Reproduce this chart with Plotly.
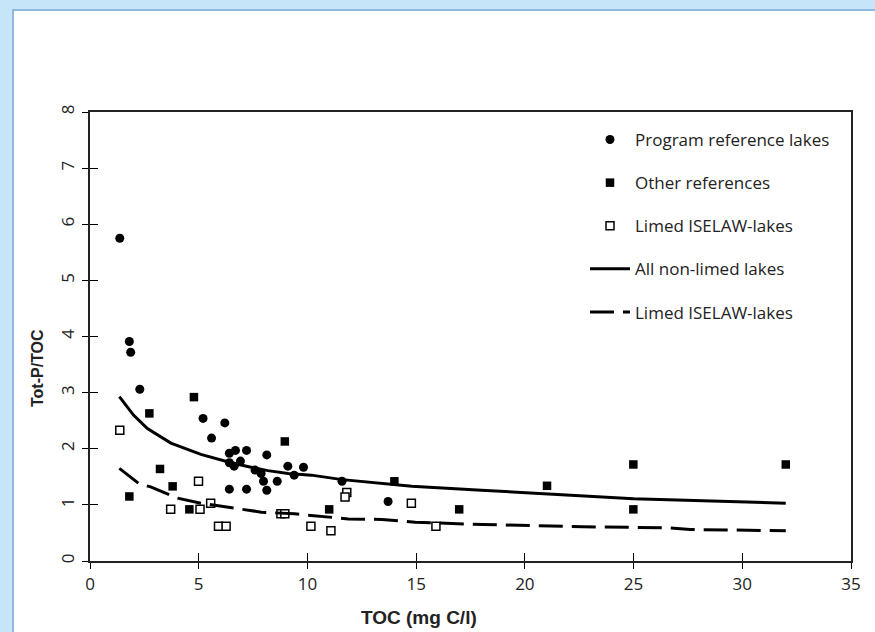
import plotly.graph_objects as go

# ---- data ----
prog_x = [1.37, 1.81, 1.87, 2.29, 5.20, 6.20, 5.59, 6.41, 6.69, 7.20, 8.13, 6.41, 6.63,
          6.92, 7.59, 7.87, 7.98, 8.61, 9.10, 9.39, 9.82, 6.41, 7.20, 8.13, 11.59, 13.71]
prog_y = [5.75, 3.91, 3.72, 3.06, 2.54, 2.46, 2.19, 1.92, 1.97, 1.97, 1.89, 1.75, 1.69,
          1.78, 1.62, 1.56, 1.42, 1.42, 1.69, 1.53, 1.67, 1.28, 1.28, 1.26, 1.42, 1.06]

other_x = [4.78, 2.73, 8.96, 3.22, 3.80, 1.81, 4.57, 11.0, 14.0, 16.98, 21.02, 24.99, 24.99, 32.0]
other_y = [2.92, 2.63, 2.13, 1.64, 1.33, 1.15, 0.92, 0.92, 1.42, 0.92, 1.34, 1.72, 0.92, 1.72]

limed_x = [1.37, 4.99, 5.55, 3.71, 5.06, 5.91, 6.26, 8.78, 8.96, 10.16, 11.08, 11.81, 11.73, 14.78, 15.91]
limed_y = [2.33, 1.42, 1.03, 0.92, 0.92, 0.62, 0.62, 0.84, 0.84, 0.62, 0.54, 1.22, 1.14, 1.03, 0.62]

nonlimed_line_x = [1.35, 2.0, 2.64, 3.72, 5.1, 5.87, 6.49, 7.3, 8.18, 9.11, 10.18, 11.6,
                   13.4, 14.8, 18.0, 21.0, 25.0, 32.0]
nonlimed_line_y = [2.93, 2.60, 2.36, 2.10, 1.90, 1.82, 1.75, 1.68, 1.61, 1.56, 1.53, 1.45,
                   1.38, 1.33, 1.26, 1.19, 1.11, 1.03]

limed_line_x = [1.35, 2.25, 2.79, 4.03, 5.1, 6.34, 7.88, 9.41, 10.34, 11.88, 13.42, 14.96,
                18.04, 22.66, 26.66, 27.6, 32.0]
limed_line_y = [1.65, 1.38, 1.32, 1.12, 1.03, 0.96, 0.87, 0.84, 0.81, 0.75, 0.74, 0.69,
                0.65, 0.61, 0.59, 0.56, 0.54]

x_ticks = [0, 5, 10, 15, 20, 25, 30, 35]
y_ticks = [0, 1, 2, 3, 4, 5, 6, 7, 8]

FONT = "Open Sans, Liberation Sans, Arial, sans-serif"
BOLD = "Liberation Sans, Arial, sans-serif"
BLUE = "#c7e5f8"
EDGE = "#93b8e0"

fig = go.Figure()
fig.add_trace(go.Scatter(x=prog_x, y=prog_y, mode="markers", name="Program reference lakes",
                         legendgroup="a",
                         marker=dict(symbol="circle", size=9, color="black", line=dict(width=0))))
fig.add_trace(go.Scatter(x=other_x, y=other_y, mode="markers", name="Other references",
                         legendgroup="b",
                         marker=dict(symbol="square", size=8.5, color="black", line=dict(width=0))))
fig.add_trace(go.Scatter(x=limed_x, y=limed_y, mode="markers", name="Limed ISELAW-lakes",
                         legendgroup="c",
                         marker=dict(symbol="square", size=8, color="white",
                                     line=dict(width=1.5, color="black"))))
fig.add_trace(go.Scatter(x=nonlimed_line_x, y=nonlimed_line_y, mode="lines",
                         name="All non-limed lakes", legendgroup="d",
                         line=dict(color="black", width=3)))
fig.add_trace(go.Scatter(x=limed_line_x, y=limed_line_y, mode="lines",
                         name="Limed ISELAW-lakes", legendgroup="e",
                         line=dict(color="black", width=3, dash="24px,9px")))

L, R, T, B = 90, 24, 112, 71
W, H = 875, 632
pw, ph = W - L - R, H - T - B

def px2paper_x(px):
    return (px - L) / pw

def py2paper_y(py):
    return (H - B - py) / ph

frame_shapes = [
    # top blue strip
    dict(type="rect", xref="paper", yref="paper", layer="below",
         x0=px2paper_x(-20), x1=px2paper_x(2000), y0=py2paper_y(10), y1=py2paper_y(-20),
         fillcolor=BLUE, line=dict(width=0)),
    # left blue strip
    dict(type="rect", xref="paper", yref="paper", layer="below",
         x0=px2paper_x(-20), x1=px2paper_x(13), y0=py2paper_y(700), y1=py2paper_y(-20),
         fillcolor=BLUE, line=dict(width=0)),
    # white panel on the right side, all the way to the edge
    dict(type="rect", xref="paper", yref="paper", layer="below",
         x0=px2paper_x(800), x1=px2paper_x(2000), y0=py2paper_y(700), y1=py2paper_y(11),
         fillcolor="white", line=dict(width=0)),
    # darker edge of the white panel
    dict(type="line", xref="paper", yref="paper", layer="below",
         x0=px2paper_x(12), x1=px2paper_x(2000), y0=py2paper_y(10), y1=py2paper_y(10),
         line=dict(color=EDGE, width=2)),
    dict(type="line", xref="paper", yref="paper", layer="below",
         x0=px2paper_x(13), x1=px2paper_x(13), y0=py2paper_y(700), y1=py2paper_y(9),
         line=dict(color=EDGE, width=2)),
]

fig.update_layout(
    width=W, height=H,
    margin=dict(l=L, r=R, t=T, b=B),
    paper_bgcolor="white",
    plot_bgcolor="white",
    showlegend=True,
    legend=dict(x=px2paper_x(585), y=py2paper_y(122), xanchor="left", yanchor="top",
                bgcolor="rgba(0,0,0,0)", font=dict(family=FONT, size=17, color="#222"),
                tracegroupgap=18, itemwidth=40),
    xaxis=dict(range=[0, 35], tickvals=x_ticks, ticks="outside", ticklen=6, tickwidth=1.3,
               tickcolor="black", showline=True, linecolor="#222", linewidth=1.5, mirror=True,
               showgrid=False, zeroline=False,
               tickfont=dict(family=FONT, size=17, color="#222"), ticklabelstandoff=1),
    yaxis=dict(range=[0, 8], tickvals=y_ticks, ticks="outside", ticklen=6, tickwidth=1.3,
               tickcolor="black", showline=True, linecolor="#222", linewidth=1.5, mirror=True,
               showgrid=False, zeroline=False, tickangle=-90,
               tickfont=dict(family=FONT, size=17, color="#222"), ticklabelstandoff=1),
    xaxis2=dict(range=[0, 35], tickvals=x_ticks, overlaying="x", anchor="y", side="bottom",
                ticks="inside", ticklen=8, tickwidth=1.3, tickcolor="black",
                showticklabels=False, showline=False, showgrid=False, zeroline=False),
    yaxis2=dict(range=[0, 8], tickvals=y_ticks, overlaying="y", anchor="x", side="left",
                ticks="inside", ticklen=8, tickwidth=1.3, tickcolor="black",
                showticklabels=False, showline=False, showgrid=False, zeroline=False),
    shapes=frame_shapes,
    annotations=[
        dict(text="<b>TOC (mg C/l)</b>", xref="paper", yref="paper",
             x=px2paper_x(419), y=py2paper_y(617), xanchor="center", yanchor="middle",
             showarrow=False, font=dict(family=BOLD, size=19, color="#222")),
        dict(text="<b>Tot-P/TOC</b>", xref="paper", yref="paper", textangle=-90,
             x=px2paper_x(37), y=py2paper_y(368), xanchor="center", yanchor="middle",
             showarrow=False, font=dict(family=BOLD, size=16, color="#222")),
    ],
)
# invisible trace so the overlay axes are drawn
fig.add_trace(go.Scatter(x=[0], y=[0], xaxis="x2", yaxis="y2", mode="markers",
                         marker=dict(opacity=0), showlegend=False, hoverinfo="skip"))

fig.write_html("out.html", config={"displayModeBar": False},
               post_script="document.body.style.margin='0';"
                           "document.body.style.overflow='hidden';"
                           "document.body.style.background='white';")
